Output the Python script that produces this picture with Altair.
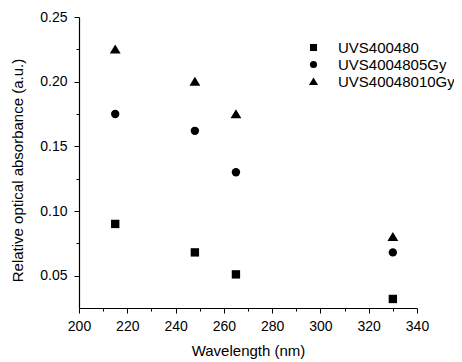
import altair as alt
import pandas as pd

wavelength = [215, 248, 265, 330]
series_names = ["UVS400480", "UVS4004805Gy", "UVS40048010Gy"]
uvs400480 = [0.090, 0.068, 0.051, 0.032]
uvs4004805 = [0.175, 0.162, 0.130, 0.068]
uvs40048010 = [0.225, 0.200, 0.175, 0.080]
shapes = ["square", "circle", "M0,-1.15L1.3,1L-1.3,1Z"]

x_ticks = [200, 210, 220, 230, 240, 250, 260, 270, 280, 290, 300, 310, 320, 330, 340]
y_ticks = [0.05, 0.075, 0.10, 0.125, 0.15, 0.175, 0.20, 0.225, 0.25]

rows = []
for name, vals in zip(series_names, [uvs400480, uvs4004805, uvs40048010]):
    for w, v in zip(wavelength, vals):
        rows.append({"Wavelength": w, "Absorbance": v, "Series": name})
df = pd.DataFrame(rows)

font = "Liberation Sans"

xscale = alt.Scale(domain=[200, 340], nice=False, zero=False)
yscale = alt.Scale(domain=[0.025, 0.25], nice=False, zero=False)

x_major = "datum.value % 20 == 0"
y_major = "round(datum.value * 1000) % 50 == 0"

points = alt.Chart(df).mark_point(filled=True, opacity=1, color="black", size=70).encode(
    x=alt.X("Wavelength:Q", scale=xscale,
            axis=alt.Axis(title="Wavelength (nm)", values=x_ticks, format="d",
                          labelExpr=f"{x_major} ? datum.label : ''",
                          grid=False, domainColor="black", tickColor="black",
                          tickSize={"condition": {"test": x_major, "value": 5}, "value": 3},
                          labelFontSize=14, titleFontSize=15,
                          labelFont=font, titleFont=font, labelColor="black",
                          titleColor="black", titleFontWeight="normal",
                          labelPadding=6, titlePadding=10, domainWidth=1.2,
                          labelOverlap=False, labelFlush=False)),
    y=alt.Y("Absorbance:Q", scale=yscale,
            axis=alt.Axis(title="Relative optical absorbance (a.u.)", values=y_ticks,
                          format=".2f", labelExpr=f"{y_major} ? datum.label : ''",
                          grid=False, domainColor="black",
                          tickColor="black",
                          tickSize={"condition": {"test": y_major, "value": 5}, "value": 3},
                          labelFontSize=14,
                          titleFontSize=15, labelFont=font, titleFont=font,
                          labelColor="black", titleColor="black",
                          titleFontWeight="normal", labelPadding=7,
                          titlePadding=14, titleY=153, domainWidth=1.2,
                          labelOverlap=False, labelFlush=False)),
    shape=alt.Shape("Series:N",
                    scale=alt.Scale(domain=series_names, range=shapes),
                    legend=alt.Legend(title=None, orient="none", legendX=227,
                                      legendY=23, labelFontSize=15, labelFont=font,
                                      labelColor="black", symbolSize=50,
                                      symbolFillColor="black", symbolStrokeColor="black",
                                      labelOffset=17, rowPadding=1, padding=0,
                                      symbolStrokeWidth=0, labelLimit=300)),
)

chart = points.properties(
    width=338, height=291,
    padding={"left": 71, "top": 9, "right": 37, "bottom": 56},
    autosize=alt.AutoSizeParams(type="none"),
).configure(background="white").configure_view(stroke=None)

chart.save("out.html", embed_options={"renderer": "svg", "actions": False})
